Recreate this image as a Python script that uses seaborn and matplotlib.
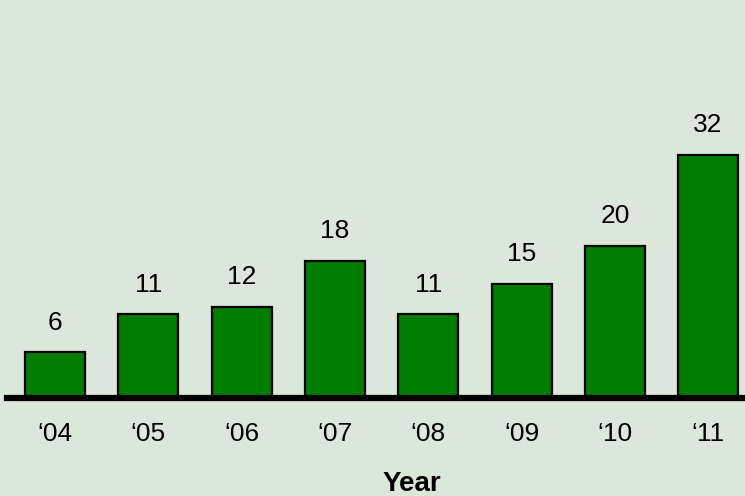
import pandas as pd
import matplotlib.pyplot as plt
import seaborn as sns

# chart data
years = ["\u201804", "\u201805", "\u201806", "\u201807", "\u201808", "\u201809", "\u201810", "\u201811"]
counts = [6, 11, 12, 18, 11, 15, 20, 32]

bg = "#dae7da"
bar_color = "#007c00"

df = pd.DataFrame({"year": years, "count": counts})

sns.set_style("white")
plt.rcParams["font.family"] = ["Liberation Sans", "DejaVu Sans"]
plt.rcParams["text.color"] = "black"
plt.rcParams["xtick.color"] = "black"
plt.rcParams["axes.labelcolor"] = "black"

fig = plt.figure(figsize=(7.45, 4.96), dpi=100, facecolor=bg)
ax = fig.add_axes([7 / 745, 98 / 496, 738 / 745, 398 / 496])
ax.set_facecolor(bg)

sns.barplot(data=df, x="year", y="count", color=bar_color, width=0.643,
            edgecolor="black", linewidth=1.6, saturation=1, ax=ax)

for i, v in enumerate(counts):
    ax.annotate(str(v), (i, v), xytext=(0, 21.5), textcoords="offset points",
                ha="center", va="center", fontsize=19)

ax.set_xlim(-0.514, 7.395)
ax.set_ylim(0, 52.4)

for side in ["top", "right", "left"]:
    ax.spines[side].set_visible(False)
ax.spines["bottom"].set_linewidth(4.5)
ax.spines["bottom"].set_color("black")
ax.set_yticks([])
ax.set_ylabel("")
ax.tick_params(axis="x", length=0, pad=17, labelsize=19)
ax.set_xlabel("")
ax.text(0.549, -0.215, "Year", transform=ax.transAxes, ha="center", va="center",
        fontsize=20, fontweight="bold")

fig.savefig("out.png", dpi=100, facecolor=bg)
